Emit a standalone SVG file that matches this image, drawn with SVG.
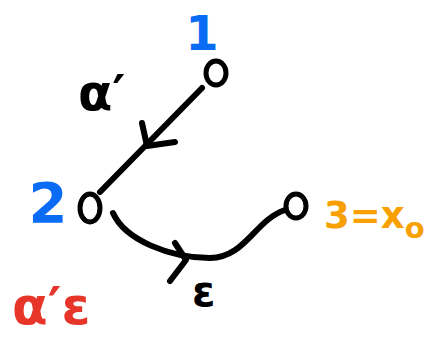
<svg xmlns="http://www.w3.org/2000/svg" width="426" height="337" viewBox="0 0 426 337">
<style>
.n{fill:none;stroke:#000;stroke-width:5;stroke-linecap:round;stroke-linejoin:round}
.e{fill:none;stroke:#000;stroke-width:6;stroke-linecap:round;stroke-linejoin:round}
text{font-family:"DejaVu Sans","Liberation Sans",sans-serif;font-weight:bold}
.b{fill:#0a6cf5}.o{fill:#f7a000}.r{fill:#e8352a}.k{fill:#000}
</style>
<rect width="426" height="337" fill="#fff"/>
<g id="connectors">
<path class="e" d="M202,88 L100,192"/>
<path class="e" d="M142,123 L147,146 L175,142"/>
<path class="e" d="M113,213 C125,240 170,258 210,258 C245,258 255,220 285,210"/>
<path class="e" d="M175,243 L186,260 L170,281"/>
</g>
<g id="node1">
<ellipse class="n" cx="216" cy="73" rx="10" ry="12"/>
<text class="b" x="202" y="50" font-size="48" text-anchor="middle">1</text>
</g>
<g id="node2">
<ellipse class="n" cx="90" cy="208" rx="10" ry="14"/>
<text class="b" x="48" y="222" font-size="56" text-anchor="middle">2</text>
</g>
<g id="node3">
<ellipse class="n" cx="296" cy="206" rx="10" ry="12"/>
<text class="o" x="324" y="228" font-size="37">3=x<tspan font-size="29" dy="10">o</tspan></text>
</g>
<g id="labels">
<text class="k" x="78" y="110" font-size="50">α′</text>
<text class="k" x="192" y="306" font-size="42">ε</text>
<text class="r" x="12" y="324" font-size="52">α′ε</text>
</g>
</svg>
